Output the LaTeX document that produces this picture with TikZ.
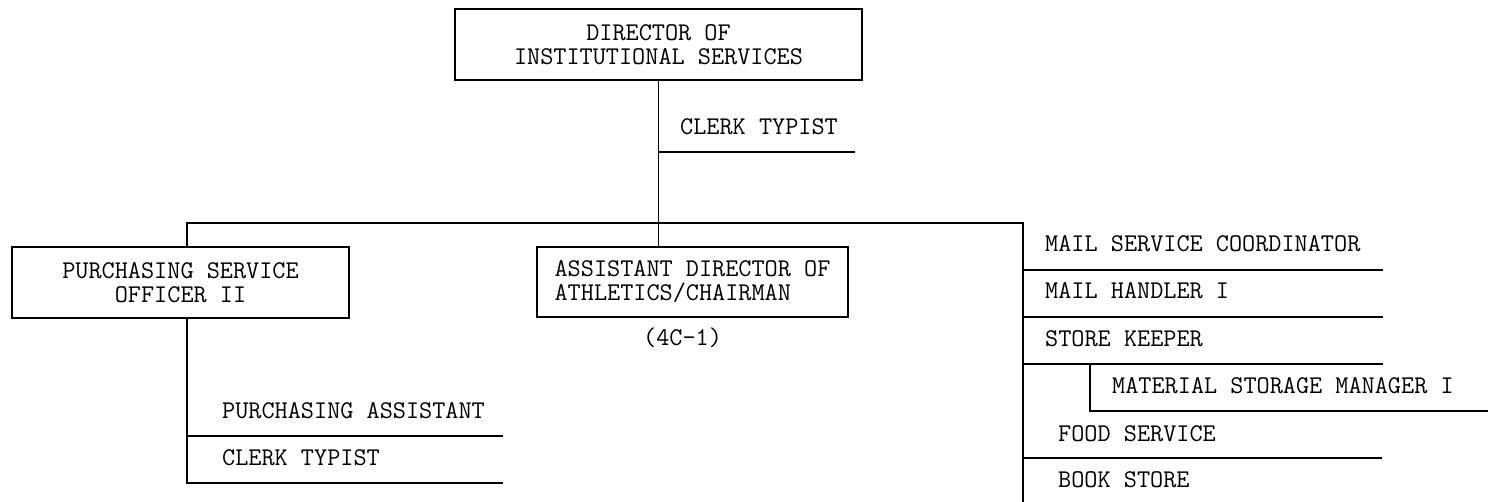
\documentclass[tikz,border=0pt]{standalone}
\usepackage{fontspec}
\begin{document}
\begin{tikzpicture}[x=1pt,y=-1pt,
  ln/.style={line width=1.3pt,black},
  box/.style={draw,line width=1.3pt,inner sep=0pt,font=\ttfamily\fontsize{25.5}{24}\selectfont},
  lbl/.style={anchor=base west,inner sep=0pt,font=\ttfamily\fontsize{25.5}{24}\selectfont}]
\useasboundingbox[fill=white] (0,0) rectangle (1488,502);
% boxes
\node[box,minimum width=407pt,minimum height=71pt,align=center] (dir) at (658.5,44.5) {DIRECTOR OF\\INSTITUTIONAL SERVICES};
\node[box,minimum width=337pt,minimum height=71pt,align=center] (pur) at (180.5,282.5) {PURCHASING SERVICE\\OFFICER II};
\node[box,minimum width=311pt,minimum height=70pt,align=left] (asst) at (692.5,282) {ASSISTANT DIRECTOR OF\\ATHLETICS/CHAIRMAN};
\node[lbl] (code) at (643,346) {(4C-1)};
% director staff
\node[lbl] (ct1) at (680,135) {CLERK TYPIST};
\coordinate (ct1a) at (659,152);
\coordinate (ct1b) at (855,152);
% bar
\coordinate (barL) at (187,223);
\coordinate (barR) at (1023,223);
\coordinate (barB) at (1023,502);
\draw[ln] (dir.south) -- (asst.north -| dir.south);
\draw[ln] (ct1a) -- (ct1b);
\draw[ln] (barL |- pur.north) -- (barL) -- (barR) -- (barB);
% purchasing subordinates
\coordinate (pv) at (187,483);
\draw[ln] (pur.south -| barL) -- (pv) -- (503,483);
\node[lbl] (pa) at (222,418) {PURCHASING ASSISTANT};
\draw[ln] (187,436) -- (503,436);
\node[lbl] (ct2) at (222,465) {CLERK TYPIST};
% right column
\node[lbl] (msc) at (1045,252) {MAIL SERVICE COORDINATOR};
\draw[ln] (barR |- 0,270) -- (1383,270);
\node[lbl] (mh) at (1045,299) {MAIL HANDLER I};
\draw[ln] (barR |- 0,317) -- (1383,317);
\node[lbl] (sk) at (1045,347) {STORE KEEPER};
\draw[ln] (barR |- 0,364) -- (1383,364);
\coordinate (msmT) at (1090,364);
\draw[ln] (msmT) -- (1090,411) -- (1488,411);
\node[lbl] (msm) at (1112,393) {MATERIAL STORAGE MANAGER I};
\node[lbl] (fs) at (1058,441) {FOOD SERVICE};
\draw[ln] (barR |- 0,458) -- (1382,458);
\node[lbl] (bs) at (1058,487) {BOOK STORE};
\end{tikzpicture}
\end{document}
